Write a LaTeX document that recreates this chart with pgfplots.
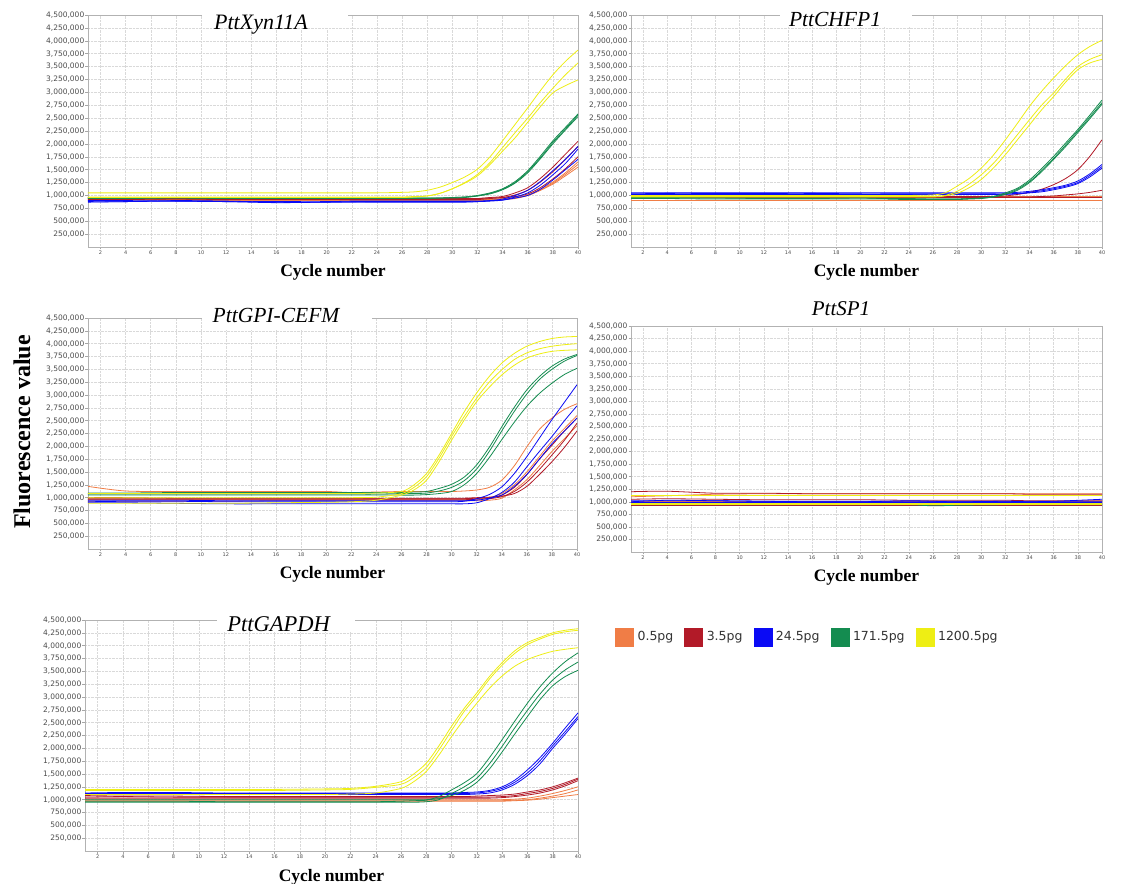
\documentclass[border=0pt]{standalone}
\usepackage{pgfplots}
\pgfplotsset{compat=1.18}
\usepackage{pgfplotstable}
\usepackage{fontspec}
\setmainfont{Liberation Serif}
\newfontfamily\tickfont{DejaVu Sans}

% template amounts
\definecolor{c05}{RGB}{240,125,70}
\definecolor{c35}{RGB}{178,26,40}
\definecolor{c245}{RGB}{10,10,245}
\definecolor{c1715}{RGB}{20,140,80}
\definecolor{c12005}{RGB}{238,238,20}

% amplification curves, fluorescence in millions; o = 0.5 pg, r = 3.5 pg,
% b = 24.5 pg, g = 171.5 pg, y = 1200.5 pg (three replicates each)
\pgfplotstableread{
cyc o1 o2 o3 r1 r2 r3 b1 b2 b3 g1 g2 g3 y1 y2 y3
1  0.93 0.91 0.94 0.94 0.92 0.95 0.87 0.88 0.90 0.95 0.94 0.96 1.05 0.97 0.96
4  0.93 0.91 0.94 0.93 0.92 0.95 0.88 0.88 0.90 0.95 0.94 0.96 1.05 0.97 0.96
8  0.92 0.91 0.93 0.93 0.93 0.94 0.89 0.90 0.89 0.95 0.95 0.96 1.05 0.97 0.96
12 0.92 0.90 0.93 0.93 0.92 0.94 0.88 0.89 0.88 0.95 0.94 0.95 1.05 0.97 0.96
16 0.92 0.90 0.93 0.93 0.92 0.94 0.86 0.87 0.88 0.95 0.94 0.95 1.05 0.97 0.96
20 0.92 0.90 0.93 0.93 0.92 0.94 0.87 0.87 0.88 0.95 0.94 0.95 1.05 0.97 0.96
22 0.92 0.90 0.93 0.93 0.92 0.94 0.87 0.88 0.89 0.95 0.94 0.95 1.05 0.97 0.96
24 0.92 0.90 0.93 0.93 0.92 0.94 0.87 0.88 0.89 0.95 0.94 0.95 1.05 0.97 0.96
26 0.92 0.90 0.93 0.93 0.92 0.94 0.87 0.88 0.89 0.95 0.94 0.95 1.06 0.97 0.96
27 0.92 0.90 0.93 0.93 0.92 0.94 0.87 0.88 0.89 0.95 0.94 0.95 1.07 0.98 0.97
28 0.92 0.90 0.93 0.93 0.92 0.94 0.87 0.88 0.89 0.95 0.94 0.95 1.10 0.99 0.99
29 0.92 0.90 0.93 0.93 0.92 0.94 0.87 0.88 0.89 0.95 0.95 0.95 1.16 1.04 1.04
30 0.92 0.90 0.93 0.93 0.92 0.94 0.87 0.88 0.89 0.96 0.95 0.96 1.25 1.13 1.13
31 0.92 0.90 0.93 0.93 0.92 0.94 0.87 0.88 0.89 0.97 0.96 0.97 1.36 1.25 1.24
32 0.92 0.90 0.93 0.94 0.92 0.94 0.88 0.88 0.89 1.00 0.99 0.99 1.51 1.41 1.38
33 0.92 0.91 0.93 0.96 0.94 0.95 0.90 0.89 0.90 1.05 1.04 1.03 1.75 1.64 1.60
34 0.93 0.92 0.94 0.98 0.96 0.96 0.93 0.91 0.91 1.13 1.12 1.11 2.06 1.93 1.86
35 0.96 0.94 0.96 1.05 1.01 0.98 1.00 0.97 0.95 1.27 1.25 1.24 2.38 2.22 2.12
36 1.00 1.00 1.01 1.15 1.10 1.03 1.10 1.05 1.00 1.48 1.46 1.44 2.70 2.50 2.42
37 1.10 1.10 1.12 1.33 1.26 1.15 1.27 1.20 1.12 1.76 1.73 1.71 3.03 2.80 2.72
38 1.22 1.24 1.26 1.55 1.46 1.32 1.48 1.40 1.30 2.06 2.03 2.00 3.34 3.08 2.99
39 1.38 1.41 1.44 1.80 1.70 1.52 1.70 1.62 1.50 2.32 2.29 2.27 3.60 3.34 3.13
40 1.55 1.60 1.65 2.05 1.95 1.75 1.95 1.90 1.70 2.58 2.56 2.53 3.82 3.57 3.24
}\tabXyn

\pgfplotstableread{
cyc o1 o2 o3 r1 r2 r3 b1 b2 b3 g1 g2 g3 y1 y2 y3
1  0.98 0.90 0.96 0.98 0.97 0.96 1.05 1.03 1.02 0.95 0.94 0.96 1.00 0.98 0.97
4  0.98 0.90 0.96 0.98 0.97 0.96 1.05 1.04 1.02 0.95 0.94 0.96 1.00 0.98 0.97
8  0.98 0.90 0.96 0.98 0.97 0.96 1.05 1.04 1.02 0.95 0.93 0.95 1.00 0.98 0.97
12 0.98 0.90 0.96 0.98 0.97 0.96 1.05 1.04 1.02 0.94 0.93 0.95 1.00 0.98 0.97
16 0.98 0.90 0.96 0.98 0.97 0.96 1.05 1.04 1.02 0.94 0.93 0.95 1.00 0.98 0.97
20 0.98 0.90 0.96 0.98 0.97 0.96 1.05 1.03 1.02 0.95 0.93 0.95 1.00 0.98 0.97
22 0.98 0.90 0.96 0.98 0.97 0.96 1.05 1.03 1.02 0.94 0.93 0.94 1.00 0.98 0.97
24 0.98 0.90 0.96 0.98 0.97 0.96 1.05 1.03 1.02 0.93 0.92 0.94 1.00 0.98 0.97
26 0.98 0.90 0.96 0.98 0.97 0.96 1.05 1.03 1.02 0.93 0.92 0.93 1.01 0.98 0.97
27 0.98 0.90 0.96 0.98 0.97 0.96 1.05 1.03 1.02 0.93 0.92 0.93 1.05 1.00 0.99
28 0.98 0.90 0.96 0.98 0.97 0.96 1.05 1.03 1.02 0.93 0.92 0.93 1.18 1.08 1.04
29 0.98 0.90 0.96 0.98 0.97 0.96 1.05 1.03 1.02 0.94 0.93 0.94 1.33 1.22 1.15
30 0.98 0.90 0.96 0.98 0.97 0.96 1.05 1.03 1.02 0.95 0.94 0.95 1.53 1.40 1.31
31 0.98 0.90 0.96 0.98 0.97 0.96 1.05 1.03 1.02 0.98 0.97 0.97 1.78 1.62 1.53
32 0.98 0.90 0.96 0.99 0.97 0.96 1.05 1.03 1.02 1.05 1.03 1.02 2.08 1.89 1.79
33 0.98 0.90 0.96 1.02 0.97 0.96 1.06 1.04 1.03 1.14 1.12 1.10 2.40 2.18 2.08
34 0.98 0.90 0.96 1.06 0.97 0.96 1.08 1.06 1.05 1.30 1.27 1.25 2.73 2.47 2.37
35 0.98 0.90 0.96 1.12 0.98 0.96 1.11 1.09 1.07 1.52 1.48 1.46 3.02 2.75 2.66
36 0.98 0.90 0.96 1.21 0.99 0.96 1.15 1.13 1.11 1.76 1.72 1.70 3.28 2.99 2.92
37 0.98 0.90 0.96 1.33 1.01 0.96 1.20 1.18 1.16 2.02 1.98 1.95 3.52 3.26 3.20
38 0.98 0.90 0.96 1.50 1.03 0.96 1.28 1.25 1.23 2.28 2.25 2.22 3.73 3.50 3.44
39 0.98 0.90 0.96 1.76 1.06 0.96 1.42 1.39 1.36 2.56 2.52 2.49 3.89 3.64 3.57
40 0.98 0.90 0.96 2.08 1.10 0.96 1.60 1.56 1.53 2.85 2.80 2.77 4.01 3.73 3.64
}\tabCHFP

\pgfplotstableread{
cyc o1 o2 o3 r1 r2 r3 b1 b2 b3 g1 g2 g3 y1 y2 y3
1  1.22 0.97 0.93 0.98 0.96 1.00 0.92 0.90 0.95 1.09 1.05 1.07 1.08 1.00 0.89
4  1.13 0.97 0.93 0.98 0.96 1.00 0.93 0.90 0.95 1.09 1.05 1.07 1.08 1.00 0.89
8  1.12 0.97 0.93 0.98 0.96 0.99 0.93 0.89 0.95 1.10 1.05 1.07 1.08 1.00 0.89
12 1.12 0.97 0.93 0.98 0.96 0.99 0.92 0.88 0.94 1.10 1.05 1.07 1.08 1.00 0.89
16 1.12 0.97 0.94 0.98 0.96 0.99 0.92 0.88 0.94 1.10 1.05 1.07 1.08 1.00 0.90
20 1.12 0.97 0.94 0.98 0.96 0.99 0.92 0.88 0.94 1.10 1.05 1.07 1.08 1.00 0.91
22 1.10 0.97 0.94 0.98 0.96 0.99 0.92 0.88 0.94 1.10 1.05 1.07 1.08 1.00 0.92
24 1.11 0.97 0.94 0.98 0.96 0.99 0.92 0.88 0.94 1.10 1.05 1.07 1.09 1.01 0.95
26 1.12 0.97 0.94 0.98 0.96 0.99 0.92 0.88 0.94 1.10 1.05 1.08 1.12 1.08 1.05
27 1.12 0.97 0.94 0.98 0.96 0.99 0.92 0.88 0.94 1.11 1.05 1.08 1.25 1.20 1.15
28 1.12 0.97 0.94 0.98 0.96 0.99 0.92 0.88 0.94 1.12 1.06 1.09 1.47 1.41 1.34
29 1.12 0.97 0.94 0.98 0.96 0.99 0.92 0.88 0.94 1.18 1.08 1.13 1.83 1.77 1.70
30 1.12 0.97 0.94 0.98 0.96 0.99 0.92 0.88 0.94 1.26 1.12 1.20 2.25 2.19 2.12
31 1.13 0.97 0.94 0.98 0.96 0.99 0.93 0.88 0.94 1.40 1.25 1.33 2.67 2.58 2.51
32 1.15 0.98 0.94 0.99 0.97 1.00 0.98 0.90 0.95 1.64 1.47 1.56 3.04 2.94 2.87
33 1.20 1.00 0.95 1.00 0.98 1.01 1.06 0.98 0.99 1.98 1.78 1.90 3.36 3.25 3.15
34 1.34 1.08 0.99 1.05 1.02 1.03 1.21 1.10 1.05 2.38 2.13 2.30 3.62 3.49 3.39
35 1.62 1.25 1.15 1.20 1.12 1.08 1.47 1.30 1.22 2.76 2.47 2.68 3.81 3.69 3.58
36 1.99 1.50 1.35 1.45 1.30 1.22 1.80 1.60 1.45 3.10 2.78 3.02 3.95 3.82 3.72
37 2.33 1.80 1.62 1.75 1.55 1.45 2.16 1.90 1.75 3.36 3.03 3.30 4.04 3.90 3.80
38 2.55 2.10 1.90 2.02 1.83 1.70 2.52 2.19 2.05 3.56 3.23 3.50 4.10 3.95 3.85
39 2.72 2.35 2.15 2.30 2.12 1.98 2.86 2.50 2.30 3.70 3.40 3.66 4.13 3.98 3.87
40 2.83 2.60 2.40 2.55 2.45 2.30 3.20 2.79 2.55 3.79 3.52 3.77 4.14 4.00 3.88
}\tabGPI

\pgfplotstableread{
cyc o1 o2 o3 r1 r2 r3 b1 b2 b3 g1 g2 g3 y1 y2 y3
1  1.10 0.92 1.00 1.20 1.05 0.93 1.00 1.02 0.99 0.95 0.94 0.97 1.12 0.94 0.96
4  1.12 0.92 1.00 1.21 1.06 0.93 1.03 1.02 0.99 0.95 0.94 0.97 1.12 0.94 0.96
8  1.15 0.92 1.00 1.17 1.05 0.93 1.02 1.02 0.99 0.95 0.94 0.97 1.12 0.94 0.96
12 1.16 0.92 1.00 1.17 1.04 0.93 1.01 1.01 0.99 0.95 0.94 0.97 1.12 0.94 0.96
16 1.16 0.92 1.00 1.16 1.04 0.93 1.00 1.01 0.99 0.95 0.94 0.97 1.12 0.94 0.96
20 1.16 0.92 1.00 1.16 1.04 0.93 1.00 1.01 0.99 0.95 0.94 0.97 1.12 0.94 0.96
24 1.16 0.92 1.00 1.16 1.03 0.93 1.02 1.01 0.99 0.95 0.94 0.97 1.12 0.94 0.96
26 1.16 0.92 1.00 1.16 1.03 0.93 1.01 1.01 0.99 0.95 0.92 0.97 1.12 0.94 0.96
28 1.16 0.92 1.00 1.16 1.03 0.93 1.00 1.01 0.99 0.95 0.93 0.97 1.12 0.94 0.96
32 1.16 0.92 1.00 1.16 1.03 0.93 1.01 1.01 0.99 0.95 0.94 0.97 1.12 0.94 0.96
34 1.16 0.92 1.00 1.15 1.02 0.93 1.01 1.00 0.99 0.95 0.94 0.97 1.12 0.94 0.96
36 1.16 0.92 1.00 1.15 1.02 0.93 1.01 1.00 0.99 0.95 0.94 0.97 1.12 0.94 0.96
40 1.16 0.92 1.00 1.15 1.02 0.93 1.05 1.00 0.99 0.95 0.94 0.97 1.12 0.94 0.96
}\tabSP

\pgfplotstableread{
cyc o1 o2 o3 r1 r2 r3 b1 b2 b3 g1 g2 g3 y1 y2 y3
1  0.98 1.00 0.97 1.05 1.08 1.03 1.13 1.12 1.10 0.97 0.95 1.00 1.20 1.18 1.10
4  0.98 1.00 0.97 1.06 1.07 1.03 1.14 1.12 1.10 0.97 0.95 1.00 1.20 1.18 1.10
8  0.98 1.00 0.97 1.05 1.07 1.03 1.14 1.12 1.10 0.97 0.95 1.00 1.20 1.18 1.10
12 0.98 1.00 0.97 1.05 1.06 1.03 1.13 1.12 1.10 0.96 0.95 1.00 1.20 1.18 1.10
16 0.98 1.00 0.97 1.05 1.06 1.03 1.13 1.12 1.10 0.96 0.95 1.00 1.20 1.18 1.10
20 0.98 1.00 0.97 1.05 1.06 1.03 1.13 1.12 1.10 0.96 0.95 1.00 1.21 1.19 1.10
22 0.98 1.00 0.97 1.05 1.06 1.03 1.13 1.12 1.10 0.96 0.95 1.00 1.22 1.20 1.11
24 0.98 1.00 0.97 1.05 1.06 1.03 1.13 1.12 1.10 0.96 0.95 1.00 1.26 1.24 1.13
26 0.98 1.00 0.97 1.05 1.06 1.03 1.13 1.12 1.10 0.97 0.95 1.00 1.35 1.30 1.22
27 0.98 1.00 0.97 1.05 1.06 1.03 1.13 1.12 1.10 0.98 0.95 1.00 1.50 1.43 1.35
28 0.98 1.00 0.97 1.05 1.06 1.03 1.13 1.12 1.10 0.99 0.96 1.00 1.71 1.63 1.55
29 0.98 1.00 0.97 1.05 1.06 1.03 1.13 1.12 1.10 1.06 1.00 1.02 2.05 1.97 1.87
30 0.98 1.00 0.97 1.05 1.06 1.03 1.13 1.12 1.10 1.19 1.12 1.08 2.43 2.35 2.23
31 0.98 1.00 0.97 1.05 1.06 1.03 1.14 1.12 1.10 1.33 1.25 1.18 2.78 2.72 2.57
32 0.98 1.00 0.97 1.05 1.07 1.03 1.15 1.13 1.11 1.51 1.42 1.34 3.08 3.02 2.88
33 0.98 1.00 0.97 1.05 1.08 1.03 1.18 1.16 1.13 1.82 1.70 1.60 3.40 3.35 3.17
34 0.98 1.00 0.97 1.06 1.09 1.04 1.25 1.22 1.19 2.17 2.04 1.93 3.67 3.62 3.41
35 0.99 1.01 0.98 1.08 1.11 1.06 1.38 1.34 1.30 2.53 2.40 2.28 3.90 3.85 3.60
36 1.00 1.03 0.99 1.12 1.15 1.09 1.58 1.52 1.47 2.88 2.74 2.62 4.06 4.02 3.73
37 1.03 1.07 1.01 1.16 1.19 1.13 1.82 1.76 1.70 3.20 3.06 2.95 4.16 4.13 3.82
38 1.07 1.12 1.04 1.22 1.25 1.19 2.10 2.05 2.00 3.47 3.33 3.22 4.25 4.22 3.89
39 1.12 1.18 1.07 1.30 1.33 1.27 2.40 2.33 2.28 3.69 3.53 3.40 4.30 4.27 3.93
40 1.19 1.25 1.10 1.40 1.42 1.37 2.69 2.62 2.58 3.86 3.68 3.52 4.33 4.30 3.96
}\tabGAPDH

% fifteen curves of one gene
\newcommand{\curves}[1]{%
  \addplot[c05] table[x=cyc,y=o1]{#1};
  \addplot[c05] table[x=cyc,y=o2]{#1};
  \addplot[c05] table[x=cyc,y=o3]{#1};
  \addplot[c35] table[x=cyc,y=r1]{#1};
  \addplot[c35] table[x=cyc,y=r2]{#1};
  \addplot[c35] table[x=cyc,y=r3]{#1};
  \addplot[c245] table[x=cyc,y=b1]{#1};
  \addplot[c245] table[x=cyc,y=b2]{#1};
  \addplot[c245] table[x=cyc,y=b3]{#1};
  \addplot[c1715] table[x=cyc,y=g1]{#1};
  \addplot[c1715] table[x=cyc,y=g2]{#1};
  \addplot[c1715] table[x=cyc,y=g3]{#1};
  \addplot[c12005] table[x=cyc,y=y1]{#1};
  \addplot[c12005] table[x=cyc,y=y2]{#1};
  \addplot[c12005] table[x=cyc,y=y3]{#1};
}

\pgfplotsset{
  qpcr/.style={
    scale only axis,
    xmin=1, xmax=40, ymin=0, ymax=4.5,
    xtick={2,4,...,40},
    ytick={0.25,0.5,0.75,1,1.25,1.5,1.75,2,2.25,2.5,2.75,3,3.25,3.5,3.75,4,4.25,4.5},
    yticklabels={{250,000},{500,000},{750,000},{1,000,000},{1,250,000},{1,500,000},
      {1,750,000},{2,000,000},{2,250,000},{2,500,000},{2,750,000},{3,000,000},
      {3,250,000},{3,500,000},{3,750,000},{4,000,000},{4,250,000},{4,500,000}},
    grid=major,
    major grid style={gray!30, densely dotted, line width=0.4pt},
    axis line style={gray!60, line width=0.6pt},
    tick style={gray!70, line width=0.4pt},
    tick align=outside,
    major tick length=2.5pt,
    xtick pos=left, ytick pos=left,
    /pgf/number format/assume math mode=true,
    yticklabel style={font=\tickfont\fontsize{7.5}{8}\selectfont, text=black!70, inner sep=1pt},
    xticklabel style={font=\tickfont\fontsize{5}{6}\selectfont, text=black!70, inner sep=1.5pt},
    xlabel={Cycle number},
    xlabel style={font=\bfseries\fontsize{17.5}{19}\selectfont,
      at={(axis description cs:0.5,0)}, anchor=base, yshift=-30pt},
    no markers,
    every axis plot/.append style={line width=0.8pt, smooth},
  }
}

\begin{document}
\begin{tikzpicture}
\path[fill=white, use as bounding box] (0pt,0pt) rectangle (1128pt,884pt);

\begin{axis}[qpcr, at={(88pt,637pt)}, anchor=south west, width=490pt, height=232pt]
\curves{\tabXyn}
\end{axis}

\begin{axis}[qpcr, at={(631pt,637pt)}, anchor=south west, width=471pt, height=232pt]
\curves{\tabCHFP}
\end{axis}

\begin{axis}[qpcr, at={(88pt,335pt)}, anchor=south west, width=489pt, height=231pt]
\curves{\tabGPI}
\end{axis}

\begin{axis}[qpcr, at={(631pt,332pt)}, anchor=south west, width=471pt, height=226pt]
\curves{\tabSP}
\end{axis}

\begin{axis}[qpcr, at={(85pt,33pt)}, anchor=south west, width=493pt, height=231pt]
\curves{\tabGAPDH}
\end{axis}

% legend of template amounts
\begin{axis}[at={(612pt,247pt)}, anchor=west, scale only axis, width=1pt, height=1pt,
  hide axis, xmin=0, xmax=1, ymin=0, ymax=1,
  legend columns=5,
  legend style={at={(0,0.5)}, anchor=west, draw=none, fill=none,
    font=\tickfont\fontsize{12.5}{14}\selectfont, text=black!80,
    /tikz/every odd column/.append style={column sep=2pt},
    /tikz/every even column/.append style={column sep=9pt}},
  legend image code/.code={\fill[#1] (0pt,-9pt) rectangle (18pt,9pt);}]
\addlegendimage{c05}\addlegendentry{0.5pg}
\addlegendimage{c35}\addlegendentry{3.5pg}
\addlegendimage{c245}\addlegendentry{24.5pg}
\addlegendimage{c1715}\addlegendentry{171.5pg}
\addlegendimage{c12005}\addlegendentry{1200.5pg}
\end{axis}

% gene names
\fill[white] (202pt,856pt) rectangle (348pt,878pt);
\node[anchor=base, font=\itshape\fontsize{22}{24}\selectfont] at (261pt,854.5pt) {PttXyn11A};
\fill[white] (780pt,857pt) rectangle (912pt,878pt);
\node[anchor=base, font=\itshape\fontsize{21.5}{24}\selectfont] at (835pt,857pt) {PttCHFP1};
\fill[white] (202pt,554pt) rectangle (372pt,579pt);
\node[anchor=base, font=\itshape\fontsize{21.5}{24}\selectfont] at (276pt,561pt) {PttGPI-CEFM};
\node[anchor=base, font=\itshape\fontsize{21}{24}\selectfont] at (841pt,568pt) {PttSP1};
\fill[white] (217pt,252pt) rectangle (355pt,272pt);
\node[anchor=base, font=\itshape\fontsize{22.5}{24}\selectfont] at (278.5pt,252pt) {PttGAPDH};

\node[rotate=90, font=\bfseries\fontsize{24}{26}\selectfont] at (22pt,452pt) {Fluorescence value};
\end{tikzpicture}
\end{document}
